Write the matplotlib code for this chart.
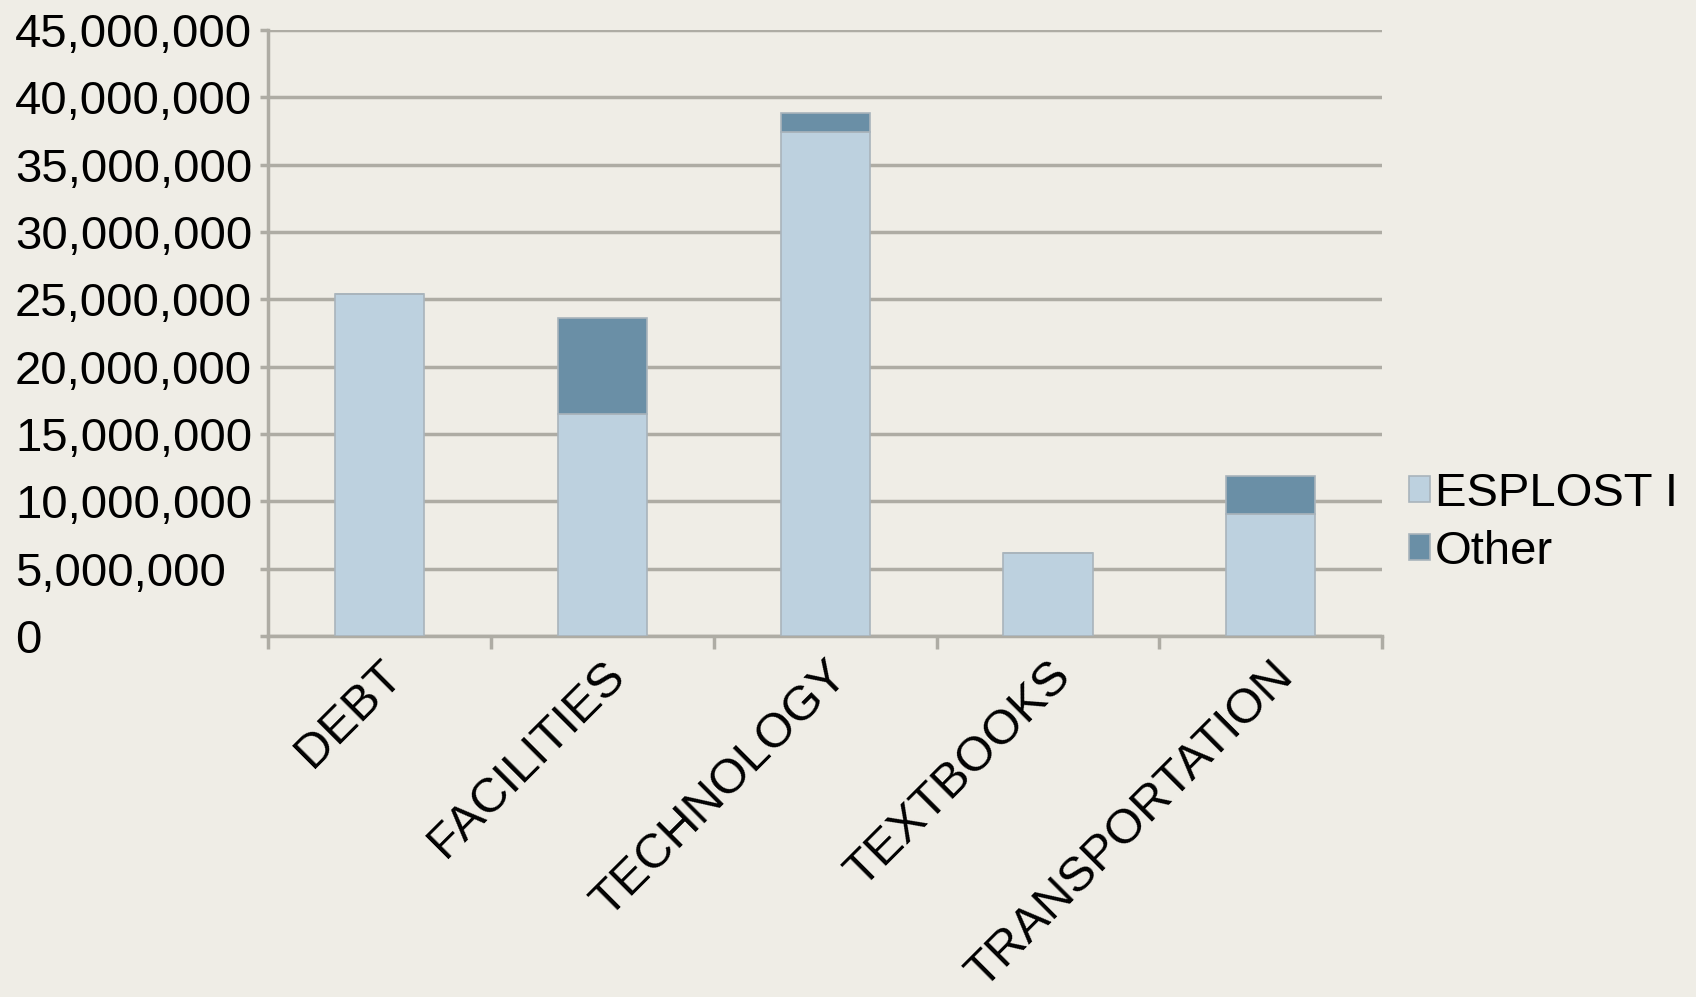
import matplotlib
matplotlib.use("Agg")
import matplotlib.pyplot as plt
from matplotlib.ticker import FuncFormatter, FixedLocator
import numpy as np

categories = ["DEBT", "FACILITIES", "TECHNOLOGY", "TEXTBOOKS", "TRANSPORTATION"]
esplost = [25400000, 16500000, 37400000, 6200000, 9100000]
other = [0, 7100000, 1450000, 0, 2800000]
series_names = ["ESPLOST I", "Other"]

bg = "#efede6"
c_esp = "#bdd1df"
c_oth = "#6a8fa6"
grid_c = "#aeaca4"

plt.rcParams['font.family'] = ['Liberation Sans', 'DejaVu Sans']

fig = plt.figure(figsize=(16.96, 9.97), dpi=100, facecolor=bg)
ax = fig.add_axes([0.158, 0.362, 0.657, 0.608])
ax.set_facecolor(bg)

x = np.arange(len(categories))
w = 0.4
ax.bar(x, esplost, w, color=c_esp, edgecolor="#a9b4bb", linewidth=1.2, label=series_names[0], zorder=3)
ax.bar(x, other, w, bottom=esplost, color=c_oth, edgecolor="#a9b4bb", linewidth=1.2, label=series_names[1], zorder=3)

ax.set_xlim(-0.5, len(categories) - 0.5)
ax.set_ylim(0, 45000000)
ax.set_yticks(np.arange(0, 45000001, 5000000))
ax.yaxis.set_major_formatter(FuncFormatter(lambda v, p: f"{int(v):,}"))
ax.grid(axis='y', color=grid_c, linewidth=2.5, zorder=0)
ax.set_axisbelow(True)

for s in ["top", "right"]:
    ax.spines[s].set_visible(False)
for s in ["left", "bottom"]:
    ax.spines[s].set_color(grid_c)
    ax.spines[s].set_linewidth(2.5)

# left-aligned y tick labels starting near the figure's left edge
ax_left_px = 0.158 * 1696
tick_len_pt = 6
pad_px = ax_left_px - tick_len_pt / 72 * 100 - 15
ax.tick_params(axis='y', length=tick_len_pt, width=2.5, color=grid_c, labelsize=34,
               pad=pad_px * 72 / 100)
for lab in ax.get_yticklabels():
    lab.set_horizontalalignment('left')

ax.tick_params(axis='x', which='major', length=0, labelsize=35, pad=12)
ax.xaxis.set_minor_locator(FixedLocator(np.arange(-0.5, len(categories), 1.0)))
ax.tick_params(axis='x', which='minor', length=9, width=2.5, color=grid_c)
ax.set_xticks(x)
ax.set_xticklabels(categories, rotation=45, ha='right', rotation_mode='anchor')

leg = ax.legend(loc='center left', bbox_to_anchor=(1.003, 0.187), frameon=False,
                fontsize=34, handlelength=0.45, handleheight=0.45, handletextpad=0.1,
                labelspacing=0.3, borderpad=0)

fig.savefig("out.png", dpi=100, facecolor=bg)
